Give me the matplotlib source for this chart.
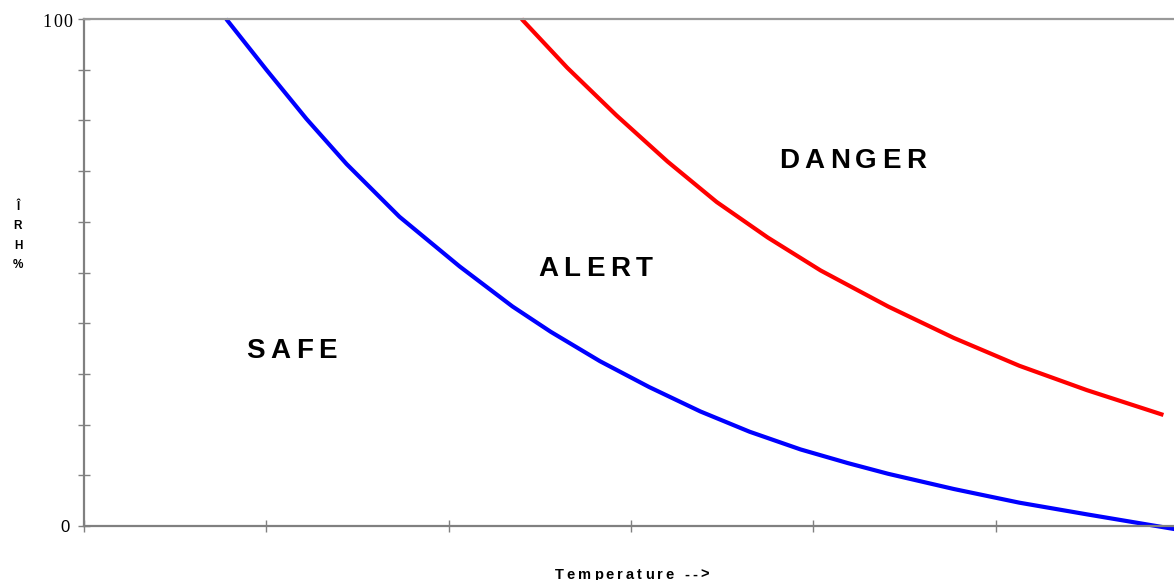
import numpy as np
import matplotlib
matplotlib.use('Agg')
import matplotlib.pyplot as plt
from matplotlib.transforms import offset_copy

# curve data (temperature in tick units, RH %)
safe_t = [0.78, 1.00, 1.22, 1.44, 1.73, 2.06, 2.35, 2.56, 2.83, 3.10, 3.38,
          3.65, 3.93, 4.19, 4.41, 4.77, 5.13, 5.50, 5.98]
safe_rh = [100.0, 90.0, 80.3, 71.4, 61.0, 51.2, 43.3, 38.3, 32.5, 27.4, 22.6,
           18.6, 15.1, 12.4, 10.3, 7.3, 4.6, 2.3, -0.6]

danger_t = [2.40, 2.65, 2.92, 3.20, 3.47, 3.75, 4.04, 4.41, 4.77, 5.13, 5.50, 5.92]
danger_rh = [100.0, 90.4, 81.0, 71.9, 63.9, 56.9, 50.4, 43.3, 37.1, 31.6, 26.8, 21.9]

# zone labels: text, x, baseline y (data units)
zone_names = ['SAFE', 'ALERT', 'DANGER']
zone_x = [0.89, 2.49, 3.81]
zone_y = [33.1, 49.3, 70.6]

x_ticks = [0, 1, 2, 3, 4, 5, 6]
y_ticks = list(range(0, 101, 10))

GRAY = '#808080'
SANS = ['Liberation Sans', 'DejaVu Sans']


def tracked_text(ax, x, y, s, gap, transform, ha='left', **kw):
    # draws a string one letter at a time with extra space between letters
    fig = ax.figure
    r = fig.canvas.get_renderer()
    widths = []
    for ch in s:
        t = ax.text(0, 0, 'n' if ch == ' ' else ch, transform=transform, **kw)
        w = t.get_window_extent(r).width
        t.remove()
        widths.append(w * 0.5 if ch == ' ' else w)
    total = sum(widths) + gap * (len(s) - 1)
    off = {'center': -total / 2, 'right': -total}.get(ha, 0)
    for ch, w in zip(s, widths):
        tr = offset_copy(transform, fig=fig, x=off, y=0, units='dots')
        ax.text(x, y, ch, transform=tr, ha='left', **kw)
        off += w + gap


fig = plt.figure(figsize=(11.74, 5.80), dpi=100)
ax = fig.add_axes([84 / 1174, 1 - 526 / 580, 1094 / 1174, 507 / 580])

ax.plot(safe_t, safe_rh, color='#0000FF', lw=3.0, clip_on=False,
        solid_capstyle='butt', solid_joinstyle='round')
ax.plot(danger_t, danger_rh, color='#FF0000', lw=3.0, clip_on=False,
        solid_capstyle='butt', solid_joinstyle='round')

ax.set_xlim(0, 6)
ax.set_ylim(0, 100)

for side in ['left', 'bottom', 'top']:
    ax.spines[side].set_color(GRAY)
    ax.spines[side].set_linewidth(1.6)
ax.spines['top'].set_color('#999999')
ax.spines['right'].set_visible(False)

ax.set_xticks(x_ticks)
ax.set_xticklabels([])
ax.set_yticks(y_ticks)
ax.set_yticklabels([])
ax.tick_params(direction='inout', length=8, width=1.0, color=GRAY)

# y tick labels: only the ends, in two different fonts like the original
tracked_text(ax, -0.065, 99.3, '100', 1.5, ax.transData, ha='right', va='center',
             fontsize=13, family=['Liberation Serif', 'DejaVu Serif'])
ax.text(-0.08, -0.3, '0', ha='right', va='center', fontsize=12, family=SANS)

for name, zx, zy in zip(zone_names, zone_x, zone_y):
    tracked_text(ax, zx, zy, name, 5.5, ax.transData, va='baseline',
                 fontsize=20, fontweight='bold', family=SANS, color='black')

# stacked y label
fig.text(18 / 1174, 1 - 236 / 580, 'Î\nR\nH\n%', ha='center', va='center',
         fontsize=8.5, fontweight='bold', family=SANS, linespacing=1.78)

# x label, cut at the bottom edge like the reference
tracked_text(ax, 0.538, 1 / 580, 'Temperature -->', 3.0, fig.transFigure,
             ha='center', va='baseline', fontsize=10.5, fontweight='bold', family=SANS)

fig.savefig('out.png', dpi=100)
